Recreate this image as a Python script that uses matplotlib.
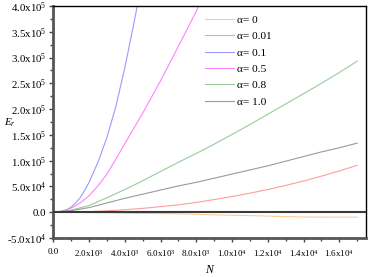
import matplotlib

matplotlib.use("Agg")

import matplotlib.pyplot as plt
from matplotlib.ticker import FuncFormatter, MultipleLocator

plt.rcParams["font.family"] = ["Liberation Serif", "DejaVu Serif"]
plt.rcParams["mathtext.fontset"] = "custom"
plt.rcParams["mathtext.rm"] = "Liberation Serif"
plt.rcParams["mathtext.it"] = "Liberation Serif:italic"

# N grid shared by the slow curves
n_slow = [0, 1000, 2000, 3000, 4000, 5000, 6000, 7000, 8000, 9000,
          10000, 11000, 12000, 13000, 14000, 15000, 16000, 17000]

e_alpha_0 = [0, -300, -800, -1200, -1700, -2200, -2700, -3100, -4000, -5000,
             -6000, -6600, -7500, -8500, -9300, -9500, -9500, -9500]
e_alpha_001 = [0, 300, 1200, 2700, 4800, 7500, 10800, 14400, 19000, 24500,
               30500, 37000, 44000, 52000, 60500, 70000, 80000, 91000]
e_alpha_08 = [0, 4000, 13000, 28000, 44000, 61000, 79000, 97000, 114000, 132000,
              151000, 170000, 190000, 210000, 230000, 250000, 271000, 293000]
e_alpha_10 = [0, 3000, 9000, 18000, 27000, 35000, 43000, 51000, 58000, 66000,
              74000, 82000, 90000, 99000, 108000, 117000, 125000, 134000]

n_blue = [0, 250, 500, 750, 1000, 1250, 1500, 1750, 2000, 2500, 3000, 3500, 4000, 4500, 5000]
e_alpha_01 = [0, 400, 2000, 5000, 10000, 18000, 28000, 42000, 58000, 97000,
              145000, 205000, 280000, 365000, 455000]

n_magenta = [0, 500, 1000, 1500, 2000, 2500, 3000, 3500, 4000, 5000, 6000, 7000, 8000, 9000]
e_alpha_05 = [0, 2000, 8000, 18000, 32000, 51000, 74000, 103000, 133000, 192000, 255000,
              322000, 390000, 460000]

labels = ["\u03b1= 0", "\u03b1= 0.01", "\u03b1= 0.1", "\u03b1= 0.5", "\u03b1= 0.8", "\u03b1= 1.0"]
colors = ["#ffc994", "#ff9d9d", "#9a9aff", "#ff82ff", "#99cc99", "#9a9a9a"]


def sci_label(value, pos):
    if value == 0:
        return "0.0"
    exp = 0
    mant = abs(value)
    while mant >= 10:
        mant /= 10
        exp += 1
    sign = "-" if value < 0 else ""
    return f"{sign}{mant:.1f}x10$^{{{exp}}}$"


fig = plt.figure(figsize=(3.82, 2.77), dpi=100)
fig.patch.set_facecolor("white")
ax = fig.add_axes([0.1395, 0.1408, 0.8199, 0.8375])

series = [
    (n_slow, e_alpha_0),
    (n_slow, e_alpha_001),
    (n_blue, e_alpha_01),
    (n_magenta, e_alpha_05),
    (n_slow, e_alpha_08),
    (n_slow, e_alpha_10),
]
for (xs, ys), label, color in zip(series, labels, colors):
    ax.plot(xs, ys, color=color, lw=0.8, label=label)

ax.axhline(0, color="#3a3a3a", lw=1.5, zorder=3)

ax.set_xlim(0, 17520)
ax.set_ylim(-50000, 400000)

ax.xaxis.set_major_locator(MultipleLocator(2000))
ax.xaxis.set_minor_locator(MultipleLocator(1000))
ax.yaxis.set_major_locator(MultipleLocator(50000))
ax.yaxis.set_minor_locator(MultipleLocator(25000))
ax.xaxis.set_major_formatter(FuncFormatter(sci_label))
ax.yaxis.set_major_formatter(FuncFormatter(sci_label))

ax.tick_params(axis="both", which="both", direction="out", color="#444444", width=1)
ax.tick_params(axis="both", which="major", length=3, pad=2)
ax.tick_params(axis="both", which="minor", length=2)
ax.tick_params(axis="x", labelsize=6.5, pad=4)
ax.tick_params(axis="y", labelsize=7.8)
ax.tick_params(top=False, right=False)

for side in ("left", "bottom"):
    ax.spines[side].set_linewidth(2)
    ax.spines[side].set_color("#555555")
for side in ("top", "right"):
    ax.spines[side].set_linewidth(1)
    ax.spines[side].set_color("black")

fig.text(0.027, 0.556, "$E_r$", fontsize=8, ha="center", va="center")
fig.text(0.55, 0.025, "$N$", fontsize=8.5, ha="center", va="center")

ax.legend(
    loc="upper left",
    bbox_to_anchor=(0.525, 0.962),
    bbox_transform=fig.transFigure,
    frameon=False,
    fontsize=8.2,
    handlelength=2.5,
    handletextpad=0.3,
    labelspacing=0.56,
    borderaxespad=0,
)

fig.savefig("out.png", dpi=100, facecolor=fig.get_facecolor())
